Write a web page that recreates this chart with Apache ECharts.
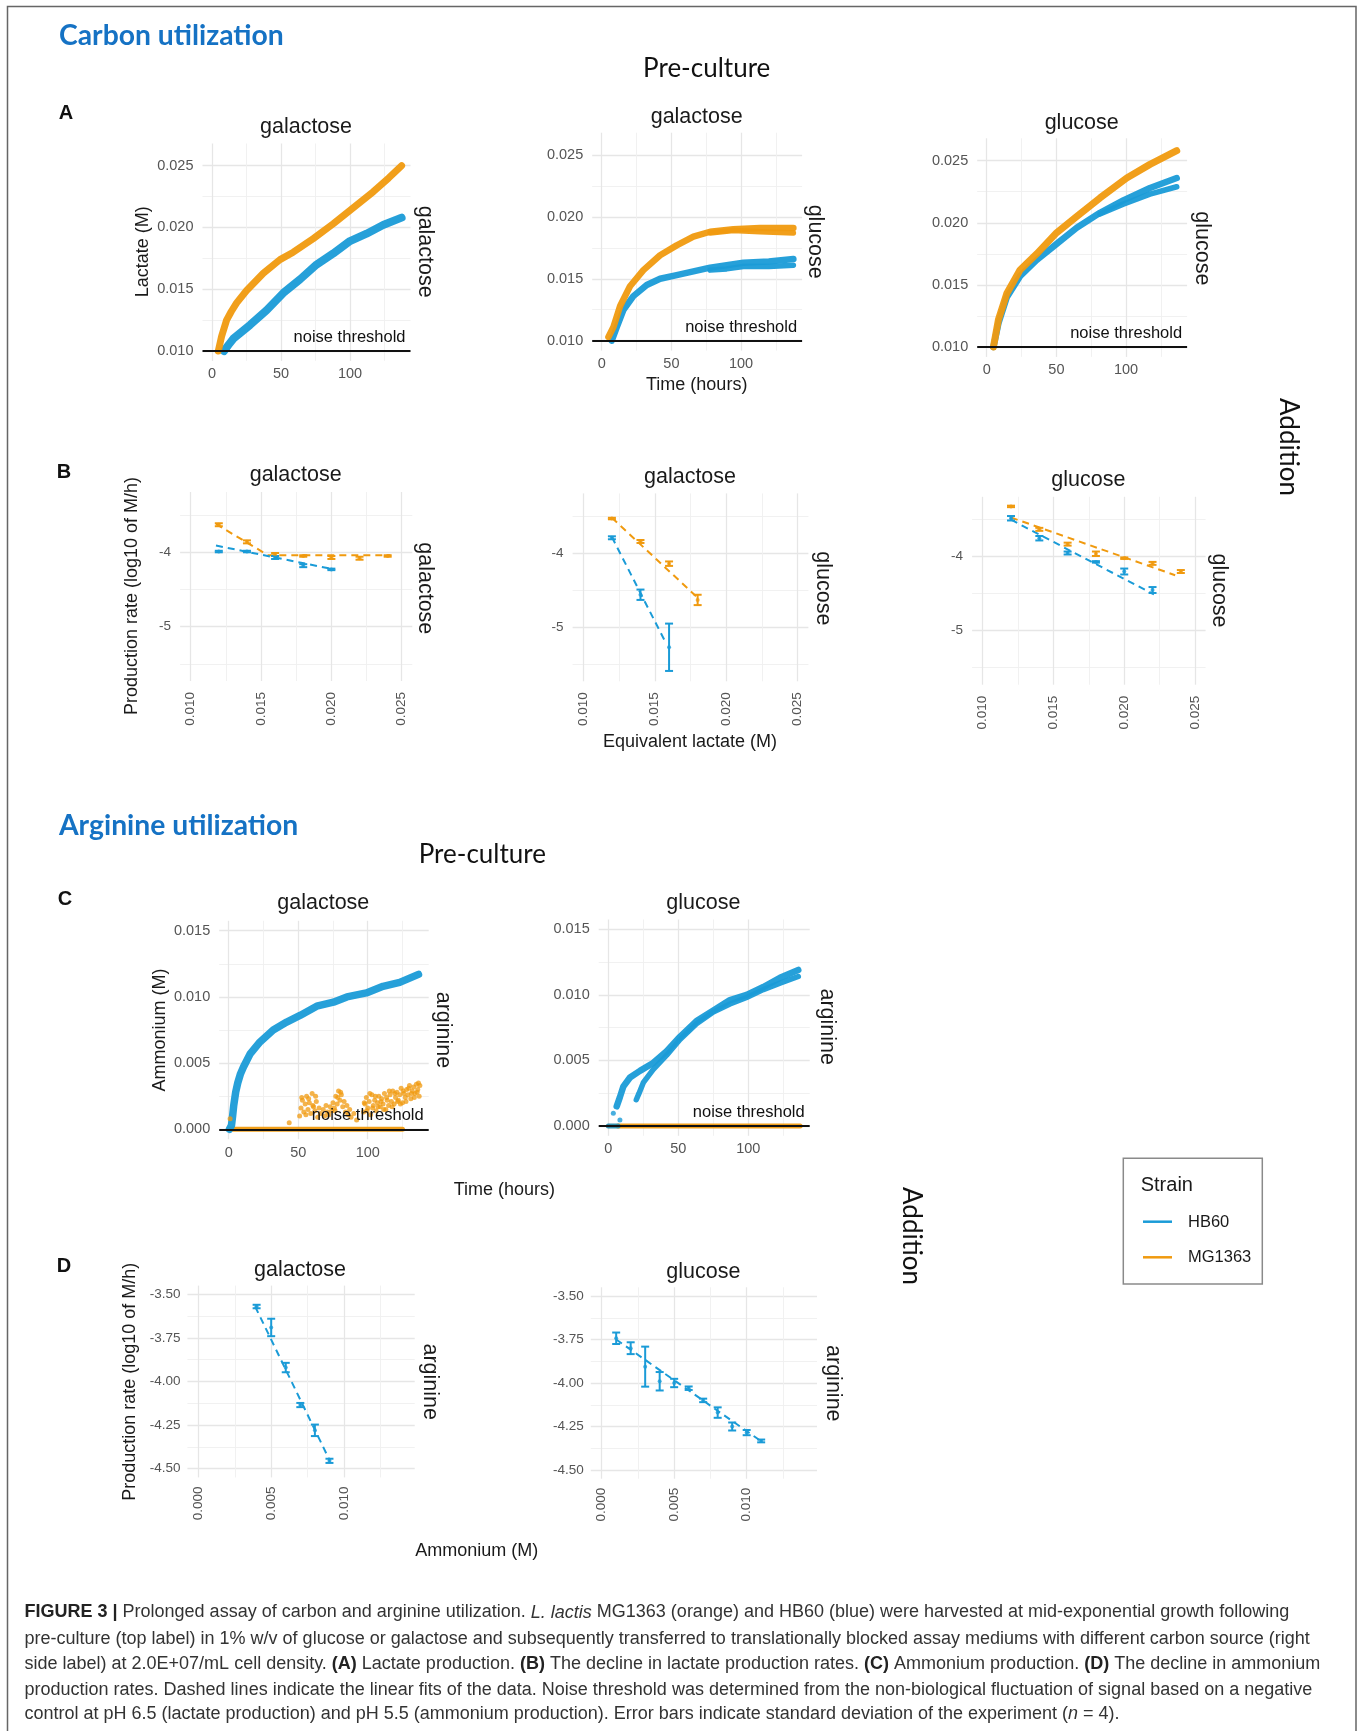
<!DOCTYPE html>
<html><head><meta charset="utf-8">
<script src="https://cdn.jsdelivr.net/npm/echarts@6/dist/echarts.min.js"></script>
<style>html,body{margin:0;padding:0;background:#fff}#c{width:1362px;height:1731px}</style>
</head><body><div id="c"></div>
<script>
// ---------------- DATA ----------------
// Panel A: lactate (M) vs time (hours)
const A_galgal_MG = [[4.6,0.0100],[7,0.0112],[10.6,0.0125],[14,0.0132],[17.9,0.0139],[25.1,0.0149],[37.2,0.0163],[49.3,0.0174],[58.9,0.0180],[73.4,0.0191],[87.9,0.0203],[102.4,0.0216],[116.9,0.0229],[128,0.0240],[137.4,0.0250]];
const A_galgal_HB = [[8.7,0.0100],[12,0.0105],[15.5,0.0110],[27.5,0.0121],[39.6,0.0133],[51.7,0.0147],[63.8,0.0158],[75.8,0.0170],[87.9,0.0179],[100,0.0189],[112,0.0195],[124,0.0202],[137.4,0.0208]];
const A_galglu_MG1 = [[4.8,0.0103],[8.4,0.0111],[13.2,0.0128],[20.3,0.0144],[29.9,0.0157],[41.9,0.0169],[53.8,0.0177],[65.8,0.0184],[77.8,0.0188],[94.5,0.0190],[113.6,0.0191],[137.6,0.0191]];
const A_galglu_MG2 = [[77.8,0.0187],[94.5,0.0189],[113.6,0.0188],[137.6,0.0187]];
const A_galglu_HB1 = [[7.2,0.0100],[10.8,0.0111],[15.6,0.0125],[22.7,0.0136],[32.3,0.0145],[41.9,0.0150],[53.8,0.0153],[65.8,0.0156],[77.8,0.0159],[89.7,0.0161],[101.7,0.0163],[120,0.0164],[137.6,0.0166]];
const A_galglu_HB2 = [[77.8,0.0157],[89.7,0.0158],[101.7,0.0160],[120,0.0160],[137.6,0.0161]];
const A_glu_MG = [[4.8,0.0100],[8.4,0.0122],[14.4,0.0143],[23.9,0.0162],[35.9,0.0175],[50.2,0.0192],[64.6,0.0205],[81.3,0.0220],[100.5,0.0236],[117.2,0.0247],[136.4,0.0258]];
const A_glu_HB1 = [[4.8,0.0100],[8.4,0.0119],[14.4,0.0140],[23.9,0.0157],[35.9,0.0170],[50.2,0.0183],[64.6,0.0196],[81.3,0.0208],[98,0.0218],[117.2,0.0228],[136.4,0.0236]];
const A_glu_HB2 = [[81.3,0.0207],[98,0.0215],[117.2,0.0223],[136.4,0.0229]];
const NOISE_LACTATE = 0.010;
const NOISE_AMMONIUM = 0.000;

// Panel B: production rate (log10 M/h) vs equivalent lactate (M)
const B_gg_MG_x = [0.012,0.014,0.016,0.018,0.020,0.022,0.024];
const B_gg_MG_y = [-3.63,-3.86,-4.03,-4.05,-4.07,-4.08,-4.05];
const B_gg_MG_e = [0.02,0.02,0.02,0.01,0.02,0.02,0.01];
const B_gg_HB_x = [0.012,0.014,0.016,0.018,0.020];
const B_gg_HB_y = [-3.99,-3.99,-4.07,-4.18,-4.23];
const B_gg_HB_e = [0.01,0.01,0.02,0.02,0.01];
const B_gg_MG_fit = [[0.0118,-3.62],[0.0155,-4.04],[0.0242,-4.04]];
const B_gg_HB_fit = [[0.0118,-3.91],[0.0202,-4.23]];

const B_gu_MG_x = [0.012,0.014,0.016,0.018];
const B_gu_MG_y = [-3.53,-3.84,-4.14,-4.63];
const B_gu_MG_e = [0.01,0.02,0.03,0.07];
const B_gu_HB_x = [0.012,0.014,0.016];
const B_gu_HB_y = [-3.79,-4.56,-5.27];
const B_gu_HB_e = [0.02,0.07,0.32];
const B_gu_MG_fit = [[0.012,-3.52],[0.018,-4.60]];
const B_gu_HB_fit = [[0.012,-3.78],[0.0158,-5.22]];

const B_uu_MG_x = [0.012,0.014,0.016,0.018,0.020,0.022,0.024];
const B_uu_MG_y = [-3.32,-3.63,-3.83,-3.96,-4.02,-4.09,-4.20];
const B_uu_MG_e = [0.01,0.02,0.02,0.03,0.01,0.02,0.02];
const B_uu_HB_x = [0.012,0.014,0.016,0.018,0.020,0.022];
const B_uu_HB_y = [-3.48,-3.75,-3.95,-4.07,-4.20,-4.45];
const B_uu_HB_e = [0.03,0.03,0.02,0.01,0.04,0.04];
const B_uu_MG_fit = [[0.012,-3.47],[0.0236,-4.25]];
const B_uu_HB_fit = [[0.012,-3.50],[0.0221,-4.51]];

// Panel C: ammonium (M) vs time (hours)
const C_gal_HB = [[0.5,0.0000],[2,0.0003],[2.8,0.0010],[3.6,0.0018],[5,0.0028],[6.5,0.0035],[8.5,0.0042],[10.6,0.0047],[15.4,0.0057],[22.5,0.0066],[32,0.0075],[41.7,0.0081],[51.3,0.0086],[63.3,0.0093],[75.3,0.0096],[85,0.0100],[99,0.0103],[111,0.0108],[123,0.0111],[136.5,0.0117]];
const C_gal_MG_zero = [[0,0],[125,0]];
const C_gal_MG_pts = [[1,0.0008],[43.5,0.0005],
 [51,0.0010],[52,0.0016],[52.5,0.0024],[53,0.0022],[54,0.0013],[55,0.0019],[55.5,0.0011],[56,0.0025],[57,0.0015],[57.5,0.0023],[58,0.0020],[59,0.0012],[60,0.0027],[60.5,0.0018],[61,0.0017],[62,0.0014],[62.5,0.0025],[63,0.0021],[64,0.0009],[65,0.0016],[66,0.0012],[68,0.0015],[69,0.0010],[70,0.0018],[71,0.0013],[72,0.0011],[73,0.0017],[74,0.0014],[75,0.0020],[76,0.0016],[76.5,0.0014],[77,0.0025],[78,0.0019],[78.5,0.0024],[79,0.0029],[80,0.0022],[80.5,0.0028],[81,0.0026],[82,0.0017],[83,0.0021],[84,0.0013],[85,0.0018],[86,0.0011],[87,0.0015],[88,0.0009],[90,0.0012],[92,0.0007],
 [97,0.0013],[97.5,0.0020],[98,0.0019],[99,0.0024],[99.5,0.0014],[100,0.0016],[101,0.0021],[101.5,0.0027],[102,0.0011],[103,0.0026],[103.5,0.0016],[104,0.0018],[105,0.0022],[105.5,0.0025],[106,0.0014],[107,0.0020],[107.5,0.0017],[108,0.0025],[109,0.0017],[109.5,0.0021],[110,0.0023],[111,0.0019],[111.5,0.0015],[112,0.0027],[113,0.0015],[113.5,0.0024],[114,0.0022],[115,0.0018],[115.5,0.0029],[116,0.0026],[117,0.0021],[117.5,0.0017],[118,0.0029],[119,0.0019],[119.5,0.0027],[120,0.0024],[121,0.0028],[121.5,0.0021],[122,0.0022],[123,0.0026],[123.5,0.0019],[124,0.0031],[125,0.0020],[125.5,0.0029],[126,0.0027],[127,0.0024],[127.5,0.0021],[128,0.0030],[129,0.0026],[129.5,0.0031],[130,0.0033],[131,0.0023],[131.5,0.0027],[132,0.0029],[133,0.0032],[133.5,0.0024],[134,0.0027],[135,0.0034],[135.5,0.0028],[136,0.0030],[136.5,0.0035],[137,0.0025],[137.5,0.0033]];
const C_glu_HB1 = [[6,0.0015],[8.3,0.0022],[10.7,0.0030],[15.5,0.0037],[22.6,0.0042],[32,0.0048],[41.7,0.0057],[51.2,0.0068],[63,0.0080],[75,0.0088],[86.9,0.0096],[98.8,0.0100],[110.7,0.0106],[122.6,0.0113],[135.7,0.0119]];
const C_glu_HB2 = [[20,0.0020],[22,0.0025],[25,0.0033],[32,0.0043],[41.7,0.0054],[51.2,0.0066],[63,0.0078],[75,0.0087],[86.9,0.0093],[98.8,0.0098],[110.7,0.0104],[122.6,0.0109],[135.7,0.0114]];
const C_glu_HB_pts = [[3.6,0.00097],[8.3,0.00046]];
const C_glu_HB_zero = [[0,0],[7,0]];
const C_glu_MG_zero = [[7,0],[137,0]];

// Panel D: production rate (log10 M/h) vs ammonium (M)
const D_gal_x = [0.004,0.005,0.006,0.007,0.008,0.009];
const D_gal_y = [-3.57,-3.69,-3.92,-4.135,-4.28,-4.455];
const D_gal_e = [0.01,0.05,0.027,0.012,0.033,0.012];
const D_gal_fit = [[0.0039,-3.57],[0.0090,-4.45]];
const D_glu_x = [0.001,0.002,0.003,0.004,0.005,0.006,0.007,0.008,0.009,0.010,0.011];
const D_glu_y = [-3.743,-3.80,-3.906,-3.99,-4.00,-4.03,-4.10,-4.17,-4.25,-4.285,-4.333];
const D_glu_e = [0.033,0.034,0.115,0.053,0.024,0.01,0.01,0.03,0.023,0.015,0.008];
const D_glu_fit = [[0.001,-3.75],[0.011,-4.335]];

// axis scales (range + tick step + label decimals)
const TIME_AX = {min:-6.85, max:143.85, iv:50, dec:0};
const LACT_AX = {min:0.0092, max:0.0268, iv:0.005, dec:3};
const EQL_AX  = {min:0.00925, max:0.02575, iv:0.005, dec:3};
const RATE_AX = {min:-5.73, max:-3.19, iv:1, dec:0};
const AMM_AX  = {min:-0.00075, max:0.01575, iv:0.005, dec:3};
const AMMX_AX = {min:-0.00075, max:0.01485, iv:0.005, dec:3};
const RATE2_AX= {min:-4.55, max:-3.45, iv:0.25, dec:2};

// ---------------- LAYOUT ----------------
const COL_HB = '#1a9bd7', COL_MG = '#f09a0f';
const FONT = '"Liberation Sans", Arial, sans-serif';
const HEAD = 'Lato, "Open Sans", sans-serif';
const BOXES = [
  [202.5,143.5,410.5,360.9],[592.2,132.7,802.1,350.6],[977.2,138.3,1187.1,356.9],
  [180.1,492.0,412.3,681.0],[572.6,493.4,808.4,681.3],[972.1,496.8,1205.6,684.7],
  [219.2,920.8,428.7,1139.2],[598.7,919.5,809.7,1135.8],
  [187.4,1285.6,414.7,1477.4],[590.8,1287.3,817.0,1478.7]];
const PANEL_AX = [[TIME_AX,LACT_AX],[TIME_AX,LACT_AX],[TIME_AX,LACT_AX],
  [EQL_AX,RATE_AX],[EQL_AX,RATE_AX],[EQL_AX,RATE_AX],
  [TIME_AX,AMM_AX],[TIME_AX,AMM_AX],[AMMX_AX,RATE2_AX],[AMMX_AX,RATE2_AX]];

function axis(gi, ax, isX, rot, fs, margin){
  return {type:'value', gridIndex:gi, min:ax.min, max:ax.max, minInterval:ax.iv, maxInterval:ax.iv, splitNumber:3,
    axisLine:{show:false}, axisTick:{show:false}, minorTick:{show:false, splitNumber:2},
    axisLabel:{show:true, color:'#555', fontSize:fs, fontFamily:FONT, margin:margin, rotate:rot||0,
      showMinLabel:false, showMaxLabel:false, formatter:v=>v.toFixed(ax.dec)},
    splitLine:{show:true, showMinLine:false, showMaxLine:false, lineStyle:{color:'#e6e6e6', width:1.3}},
    minorSplitLine:{show:true, lineStyle:{color:'#efefef', width:0.9}}};
}
const grids=[], xAxes=[], yAxes=[];
BOXES.forEach((b,i)=>{
  grids.push({left:b[0], top:b[1], width:b[2]-b[0], height:b[3]-b[1], containLabel:false});
  const rotX = (i>=3&&i<=5)||i>=8;
  const fs = rotX?13.5:14.5;
  xAxes.push(axis(i, PANEL_AX[i][0], true, rotX?90:0, fs, rotX?(i>=8?9:11):6));
  yAxes.push(axis(i, PANEL_AX[i][1], false, 0, fs, i>=8?7:9));
});

const series=[];
function band(gi,data,color,w){series.push({type:'line',xAxisIndex:gi,yAxisIndex:gi,data,symbol:'none',silent:true,z:3,
  lineStyle:{color,width:w,cap:'round',join:'round',opacity:0.95}});}
function dots(gi,data,color,size,op){series.push({type:'scatter',xAxisIndex:gi,yAxisIndex:gi,data,symbolSize:size,silent:true,z:3,
  itemStyle:{color,opacity:op}});}
function threshold(gi,v){series.push({type:'line',xAxisIndex:gi,yAxisIndex:gi,data:[],z:8,
  markLine:{symbol:'none',silent:true,animation:false,lineStyle:{color:'#111',width:2,type:'solid'},
    label:{show:true,position:'insideEndTop',formatter:'noise threshold',color:'#111',fontSize:16.5,fontFamily:FONT,distance:5},
    data:[{yAxis:v}]}});}
function fit(gi,data,color){series.push({type:'line',xAxisIndex:gi,yAxisIndex:gi,data,symbol:'none',silent:true,z:4,
  lineStyle:{color,width:2,type:[7,5]}});}
function rates(gi,xs,ys,es,color,cap){
  series.push({type:'scatter',xAxisIndex:gi,yAxisIndex:gi,data:xs.map((x,i)=>[x,ys[i]]),symbolSize:4,silent:true,z:5,itemStyle:{color}});
  series.push({type:'custom',xAxisIndex:gi,yAxisIndex:gi,silent:true,z:5,data:xs.map((x,i)=>[x,ys[i],es[i]]),encode:{x:0,y:1},
    renderItem:function(p,api){
      const x=api.value(0),y=api.value(1),e=api.value(2);
      const t=api.coord([x,y+e]),b=api.coord([x,y-e]);const st={stroke:color,lineWidth:2};
      return {type:'group',children:[
        {type:'line',shape:{x1:t[0],y1:t[1],x2:b[0],y2:b[1]},style:st},
        {type:'line',shape:{x1:t[0]-cap,y1:t[1],x2:t[0]+cap,y2:t[1]},style:st},
        {type:'line',shape:{x1:b[0]-cap,y1:b[1],x2:b[0]+cap,y2:b[1]},style:st}]};
    }});
}
// A
band(0,A_galgal_HB,COL_HB,8); band(0,A_galgal_MG,COL_MG,7); threshold(0,NOISE_LACTATE);
band(1,A_galglu_HB1,COL_HB,6.5); band(1,A_galglu_HB2,COL_HB,5.5); band(1,A_galglu_MG1,COL_MG,6.5); band(1,A_galglu_MG2,COL_MG,5.5); threshold(1,NOISE_LACTATE);
band(2,A_glu_HB1,COL_HB,6.5); band(2,A_glu_HB2,COL_HB,5.5); band(2,A_glu_MG,COL_MG,7); threshold(2,NOISE_LACTATE);
// B
fit(3,B_gg_MG_fit,COL_MG); fit(3,B_gg_HB_fit,COL_HB);
rates(3,B_gg_MG_x,B_gg_MG_y,B_gg_MG_e,COL_MG,4); rates(3,B_gg_HB_x,B_gg_HB_y,B_gg_HB_e,COL_HB,4);
fit(4,B_gu_MG_fit,COL_MG); fit(4,B_gu_HB_fit,COL_HB);
rates(4,B_gu_MG_x,B_gu_MG_y,B_gu_MG_e,COL_MG,4); rates(4,B_gu_HB_x,B_gu_HB_y,B_gu_HB_e,COL_HB,4);
fit(5,B_uu_MG_fit,COL_MG); fit(5,B_uu_HB_fit,COL_HB);
rates(5,B_uu_MG_x,B_uu_MG_y,B_uu_MG_e,COL_MG,4); rates(5,B_uu_HB_x,B_uu_HB_y,B_uu_HB_e,COL_HB,4);
// C
band(6,C_gal_MG_zero,COL_MG,5); dots(6,C_gal_MG_pts,COL_MG,5,0.75); band(6,C_gal_HB,COL_HB,7.5); threshold(6,NOISE_AMMONIUM);
band(7,C_glu_MG_zero,COL_MG,5); band(7,C_glu_HB_zero,'#2a8aa8',5); band(7,C_glu_HB2,COL_HB,5.5); band(7,C_glu_HB1,COL_HB,6.5);
dots(7,C_glu_HB_pts,COL_HB,5,0.8); threshold(7,NOISE_AMMONIUM);
// D
fit(8,D_gal_fit,COL_HB); rates(8,D_gal_x,D_gal_y,D_gal_e,COL_HB,4);
fit(9,D_glu_fit,COL_HB); rates(9,D_glu_x,D_glu_y,D_glu_e,COL_HB,4);

// texts
const G=[];
function txt(s,x,y,o){o=o||{};G.push({type:'text',x,y,rotation:o.rot||0,silent:true,z:10,
  style:{text:s,fill:o.color||'#1a1a1a',fontSize:o.fs||21.5,fontFamily:o.ff||FONT,fontWeight:o.fw||'normal',
   align:o.align||'center',verticalAlign:'middle',rich:o.rich}});}
const CW=-Math.PI/2, CCW=Math.PI/2;
txt('Carbon utilization',59,36,{ff:HEAD,fw:'bold',fs:28.3,color:'#1572c4',align:'left'});
txt('Arginine utilization',59,826,{ff:HEAD,fw:'bold',fs:28.3,color:'#1572c4',align:'left'});
txt('Pre-culture',706.7,68.3,{ff:HEAD,fs:26,color:'#111'});
txt('Pre-culture',482.3,854.3,{ff:HEAD,fs:26,color:'#111'});
txt('Addition',1288,447,{ff:HEAD,fs:26,color:'#111',rot:CW});
txt('Addition',911.6,1236,{ff:HEAD,fs:26,color:'#111',rot:CW});
[['A',66,113.3],['B',64,472.4],['C',65,899.5],['D',64,1266]].forEach(a=>txt(a[0],a[1],a[2],{fw:'bold',fs:20,color:'#111'}));
// panel titles
[['galactose',306,126.7],['galactose',696.7,116.7],['glucose',1081.7,122.7],
 ['galactose',295.7,475],['galactose',690,476.7],['glucose',1088.3,480],
 ['galactose',323.3,903.3],['glucose',703.3,903.3],
 ['galactose',300,1270],['glucose',703.3,1271.7]].forEach(a=>txt(a[0],a[1],a[2]));
// strip labels (right side)
[['galactose',425,251.7],['glucose',815,241.7],['glucose',1201.7,248.3],
 ['galactose',425,588.3],['glucose',823.3,588.3],['glucose',1218.5,590.5],
 ['arginine',443.3,1030],['arginine',826.7,1026.7],
 ['arginine',430,1381.7],['arginine',833.3,1383.3]].forEach(a=>txt(a[0],a[1],a[2],{rot:CW}));
// axis titles
txt('Lactate (M)',142.7,251.7,{fs:18,rot:CCW});
txt('Time (hours)',696.7,385,{fs:18});
txt('Production rate (log10 of M/h)',131.7,596,{fs:18,rot:CCW});
txt('Equivalent lactate (M)',690,741.7,{fs:18});
txt('Ammonium (M)',160,1030,{fs:18,rot:CCW});
txt('Time (hours)',504.4,1189.8,{fs:18});
txt('Production rate (log10 of M/h)',130,1381.7,{fs:18,rot:CCW});
txt('Ammonium (M)',476.8,1550.7,{fs:18});
// legend
G.push({type:'rect',shape:{x:1123.3,y:1158.3,width:139,height:125.7},style:{fill:'#fff',stroke:'#8a8a8a',lineWidth:1.5},z:9,silent:true});
txt('Strain',1140.7,1185,{fs:20,align:'left'});
G.push({type:'line',shape:{x1:1143,y1:1221.7,x2:1172,y2:1221.7},style:{stroke:COL_HB,lineWidth:2.5},z:10,silent:true});
G.push({type:'line',shape:{x1:1143,y1:1257.3,x2:1172,y2:1257.3},style:{stroke:COL_MG,lineWidth:2.5},z:10,silent:true});
txt('HB60',1188,1222,{fs:16.5,align:'left'});
txt('MG1363',1188,1257.5,{fs:16.5,align:'left'});
// border
G.push({type:'rect',shape:{x:7.5,y:6.5,width:1348.5,height:1740},style:{fill:'none',stroke:'#666',lineWidth:1.5},z:0,silent:true});
// caption
const CAP=[
 '{b|FIGURE 3 |} Prolonged assay of carbon and arginine utilization. {i|L. lactis} MG1363 (orange) and HB60 (blue) were harvested at mid-exponential growth following',
 'pre-culture (top label) in 1% w/v of glucose or galactose and subsequently transferred to translationally blocked assay mediums with different carbon source (right',
 'side label) at 2.0E+07/mL cell density. {b|(A)} Lactate production. {b|(B)} The decline in lactate production rates. {b|(C)} Ammonium production. {b|(D)} The decline in ammonium',
 'production rates. Dashed lines indicate the linear fits of the data. Noise threshold was determined from the non-biological fluctuation of signal based on a negative',
 'control at pH 6.5 (lactate production) and pH 5.5 (ammonium production). Error bars indicate standard deviation of the experiment ({i|n} = 4).'];
const capY=[1612.5,1639,1664.4,1689.8,1714];
const CAP_FS=18;
CAP.forEach((s,i)=>txt(s,24.5,capY[i],{fs:CAP_FS,color:'#333',align:'left',
  rich:{b:{fontWeight:'bold',fontSize:CAP_FS,fontFamily:FONT,fill:'#222'},i:{fontStyle:'italic',fontSize:CAP_FS,fontFamily:FONT,fill:'#333'}}}));

const chart=echarts.init(document.getElementById('c'),null,{renderer:'canvas',width:1362,height:1731});
chart.setOption({animation:false,backgroundColor:'#fff',textStyle:{fontFamily:FONT},
  grid:grids,xAxis:xAxes,yAxis:yAxes,series,graphic:G});
</script></body></html>
